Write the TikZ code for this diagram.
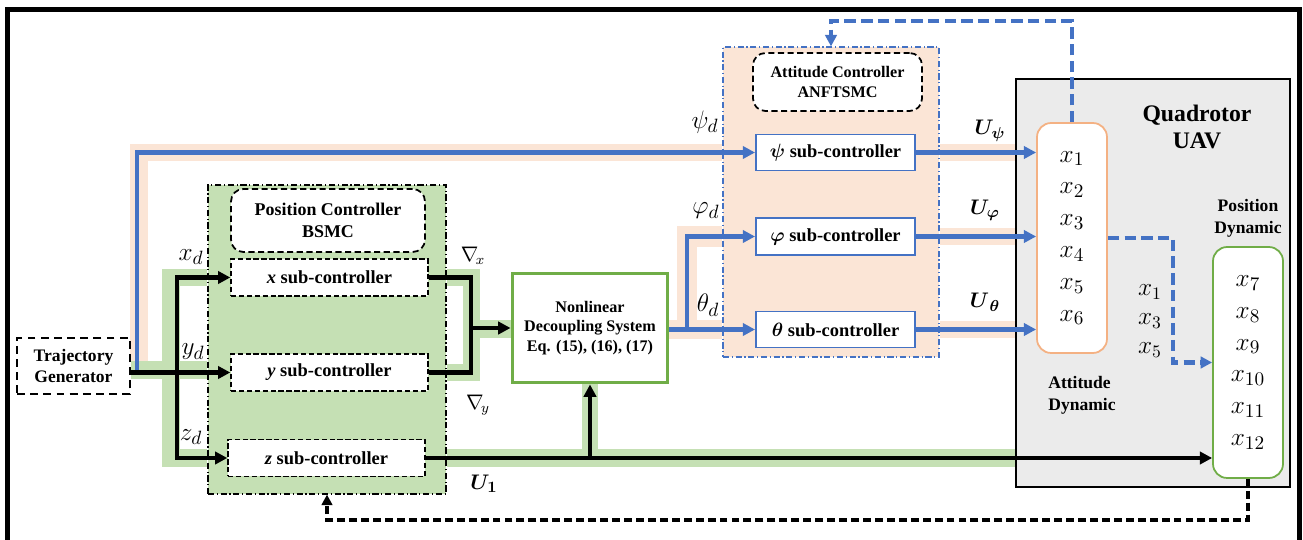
\documentclass[tikz,border=0pt]{standalone}
\usepackage{fontspec}
\setmainfont{Liberation Serif}
\usepackage{bm}
\usetikzlibrary{arrows.meta,backgrounds}

\definecolor{ublue}{HTML}{4472C4}
\definecolor{upeach}{HTML}{FBE5D6}
\definecolor{ugreen}{HTML}{C5E0B4}
\definecolor{dgreen}{HTML}{70AD47}
\definecolor{uorange}{HTML}{F4B183}
\definecolor{ugray}{HTML}{EBEBEB}

\begin{document}
\begin{tikzpicture}[x=0.02cm, y=-0.02cm,
    >={Triangle[length=7pt,width=7pt]},
    txt/.style={font=\fontsize{10.2}{12.5}\selectfont\bfseries, align=center},
    grp/.style={line width=0.7pt, dash pattern=on 3.5pt off 1.5pt on 0.7pt off 1.5pt},
    ttl/.style={draw, dash pattern=on 3.5pt off 2pt, line width=1pt, rounded corners=7pt, fill=white, txt},
    ksub/.style={draw, dash pattern=on 3pt off 1.5pt, line width=0.8pt, fill=white, minimum width=3.94cm, minimum height=0.74cm, txt, font=\fontsize{10.5}{12}\selectfont\bfseries},
    bsub/.style={draw=ublue, line width=1.1pt, fill=white, minimum width=3.18cm, minimum height=0.72cm, txt, font=\fontsize{10.5}{12}\selectfont\bfseries},
    states/.style={line width=1pt, rounded corners=8pt, fill=white, minimum width=1.4cm, minimum height=4.6cm, align=center, font=\fontsize{15}{18.1}\selectfont},
    mlbl/.style={font=\fontsize{15}{18}\selectfont, inner sep=0pt},
    ulbl/.style={font=\fontsize{12.5}{15}\selectfont, inner sep=0pt},
    sig/.style={line width=2.8pt},
    bsig/.style={ublue, line width=2.8pt},
    fb/.style={line width=2pt, dash pattern=on 4.5pt off 2.3pt, >={Triangle[length=6pt,width=6pt]}},
    bfb/.style={ublue, line width=2.3pt, dash pattern=on 6.5pt off 3pt, >={Triangle[length=6.5pt,width=6.5pt]}},
    pband/.style={upeach, line width=9.8pt},
    gband/.style={ugreen, line width=10.2pt},
]
\useasboundingbox (0,0) rectangle (1303,540);
\clip (0,0) rectangle (1303,540);
\draw[line width=2.6pt] (7.5,9.5) rectangle (1299.5,620);

% group backgrounds
\node[grp, draw, fill=ugreen, minimum width=4.76cm, minimum height=6.18cm] (posbg) at (327,339.5) {};
\node[grp, draw=ublue, fill=upeach, minimum width=4.32cm, minimum height=6.2cm] (attbg) at (831,202) {};
\node[draw, line width=0.8pt, fill=ugray, minimum width=5.48cm, minimum height=8.16cm] (uav) at (1153,283) {};

\node[draw, dash pattern=on 4.5pt off 3pt, line width=1.3pt, fill=white, minimum width=2.26cm, minimum height=1.12cm, txt, font=\fontsize{10}{12.5}\selectfont\bfseries] (tg) at (73.5,366) {Trajectory\\Generator};

\node[ttl, minimum width=3.88cm, minimum height=1.26cm] (postitle) at (328,220.5) {Position Controller\\BSMC};
\node[ksub] (xsub) at (329.5,277.5) {\textit{x} sub-controller};
\node[ksub] (ysub) at (329.5,372.5) {\textit{y} sub-controller};
\node[ksub] (zsub) at (326.5,458) {\textit{z} sub-controller};

\node[draw=dgreen, line width=1.7pt, fill=white, minimum width=3.12cm, minimum height=2.2cm, txt, font=\fontsize{9.2}{11.3}\selectfont\bfseries] (nld) at (590,328) {Nonlinear\\Decoupling System\\Eq. (15), (16), (17)};

\node[ttl, minimum width=3.38cm, minimum height=1.16cm, font=\fontsize{9.2}{11.3}\selectfont\bfseries] (atttitle) at (837.5,82) {Attitude Controller\\ANFTSMC};
\node[bsub] (psisub) at (835.5,152.5) {$\bm{\psi}$ sub-controller};
\node[bsub, minimum height=0.74cm] (phisub) at (835.5,236.5) {$\bm{\varphi}$ sub-controller};
\node[bsub] (thetasub) at (835.5,329.5) {$\bm{\theta}$ sub-controller};

\node[states, draw=uorange] (attdyn) at (1072,238) {$x_1$\\$x_2$\\$x_3$\\$x_4$\\$x_5$\\$x_6$};
\node[states, draw=dgreen, minimum height=4.62cm] (posdyn) at (1248,362.5) {$x_7$\\$x_8$\\$x_9$\\$x_{10}$\\$x_{11}$\\$x_{12}$};

\node[txt, font=\fontsize{13.5}{15.5}\selectfont\bfseries] (quad) at (1197,127) {Quadrotor\\UAV};
\node[txt, align=left, font=\fontsize{10}{12.5}\selectfont\bfseries] (attlbl) at (1082,395) {Attitude\\Dynamic};
\node[txt, font=\fontsize{10}{12.5}\selectfont\bfseries] (poslbl) at (1248,218) {Position\\Dynamic};

% signal labels
\node[mlbl] (lxd) at (191,257) {$x_d$};
\node[mlbl] (lyd) at (193,352) {$y_d$};
\node[mlbl] (lzd) at (191,437) {$z_d$};
\node[mlbl, font=\fontsize{12}{14}\selectfont] (lnx) at (473,256) {$\nabla_{\!x}$};
\node[mlbl, font=\fontsize{12}{14}\selectfont] (lny) at (478,405) {$\nabla_{\!y}$};
\node[ulbl] (lu1) at (484,484) {$\bm{U_1}$};
\node[mlbl] (lpsi) at (705,122) {$\psi_d$};
\node[mlbl] (lphi) at (706,211) {$\varphi_d$};
\node[mlbl] (lth) at (708,305) {$\theta_d$};
\node[ulbl] (lupsi) at (990,131) {$\bm{U_\psi}$};
\node[ulbl] (luphi) at (985,210) {$\bm{U_\varphi}$};
\node[ulbl] (luth) at (985,302) {$\bm{U}_{\,\bm{\theta}}$};
\node[mlbl, align=center, font=\fontsize{14}{16.4}\selectfont] (lfb) at (1150,321) {$x_1$\\$x_3$\\$x_5$};

\coordinate (bsplit) at (137,372.5);
\coordinate (ksplit) at (177,372.5);
\coordinate (join) at (471,328);
\coordinate (branch) at (687,329.5);
\coordinate (u1split) at (590,458);

% highlight bands
\begin{pgfonlayer}{background}
\draw[pband] (139,362) |- (attbg.west |- psisub);
\draw[pband, line width=11pt] (nld.east |- thetasub) -- (attbg.west |- thetasub);
\draw[pband, line width=11.5pt] (branch) |- (attbg.west |- phisub);
\draw[pband] (attbg.east |- psisub) -- (uav.west |- psisub);
\draw[pband] (attbg.east |- phisub) -- (uav.west |- phisub);
\draw[pband] (attbg.east |- thetasub) -- (uav.west |- thetasub);
\draw[gband] (tg.east |- 0,370) -- (posbg.west |- 0,370);
\draw[gband] (posbg.west |- xsub) -| (171,458) -- (posbg.west |- zsub);
\draw[gband] (posbg.east |- xsub) -| (471.5,372.5) -- (posbg.east |- ysub);
\draw[gband] (471.5,329) -- (nld.west |- 0,329);
\draw[gband] (posbg.east |- zsub) -- (uav.west |- zsub);
\draw[gband, line width=9pt] (nld.south) -- (u1split);
\end{pgfonlayer}

% position loop
\draw[bsig, ->] (bsplit) |- (psisub);
\draw[sig, ->] (tg.east |- ysub) -- (ysub);
\draw[sig, ->] (ksplit) |- (xsub);
\draw[sig, ->] (ksplit) |- (zsub);
\draw[sig] (xsub) -| (join) |- (ysub);
\draw[sig, ->] (join) -- (nld);
\draw[sig] (zsub) -- (u1split);
\draw[sig, ->] (u1split) -- (nld);
\draw[line width=1.9pt, ->] (u1split) -- (posdyn.west |- zsub);

% attitude loop
\draw[bsig, ->] (nld.east |- thetasub) -- (thetasub);
\draw[bsig, ->] (branch) |- (phisub);
\draw[bsig, ->] (psisub) -- (attdyn.west |- psisub);
\draw[bsig, ->] (phisub) -- (attdyn.west |- phisub);
\draw[bsig, ->] (thetasub) -- (attdyn.west |- thetasub);

% feedback
\draw[bfb, ->] (attdyn.north) -- ++(0,-101) -| (attbg.north);
\draw[bfb, ->] (attdyn.east) -- ++(65,0) |- (posdyn);
\draw[fb, ->] (posdyn.south) -- ++(0,41) -| (posbg.south);

\end{tikzpicture}
\end{document}
